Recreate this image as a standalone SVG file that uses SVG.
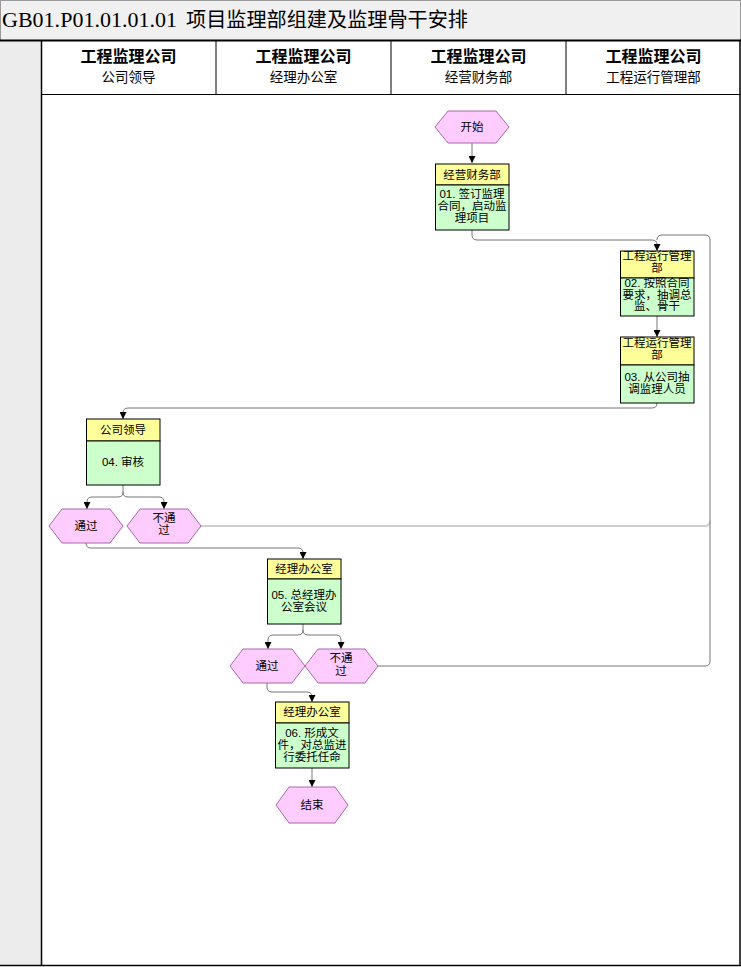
<svg xmlns="http://www.w3.org/2000/svg" width="741" height="967" viewBox="0 0 741 967">
<defs>
<marker id="arr" viewBox="0 0 10 10" refX="10" refY="5" markerWidth="7" markerHeight="7" markerUnits="userSpaceOnUse" orient="auto">
<path d="M0,0 L10,5 L0,10 z" fill="#000"/>
</marker>
<style>
.t{font-family:"Liberation Sans","Noto Sans CJK SC",sans-serif;fill:#000;text-anchor:middle}
.b{font-size:11.5px}
.h{font-size:11.5px}
.hx{fill:#ffccff;stroke:#a868a8;stroke-width:1}
.yh{fill:#ffff99;stroke:#000;stroke-width:1}
.gb{fill:#ccffcc;stroke:#000;stroke-width:1}
.c{fill:none;stroke:#777;stroke-width:1}
.ca{fill:none;stroke:#777;stroke-width:1;marker-end:url(#arr)}
.lane{font-family:"Noto Sans CJK SC","Liberation Sans",sans-serif;text-anchor:middle;fill:#000}
</style>
</defs>

<g id="frame">
<rect x="0.5" y="0.5" width="740" height="40" fill="#f0f0f0" stroke="#999"/>
<rect x="0" y="41" width="41" height="925" fill="#ececec"/>
<rect x="41" y="41" width="700" height="925" fill="#fff"/>
<line x1="0" y1="40.5" x2="741" y2="40.5" stroke="#000" stroke-width="2"/>
<line x1="41.5" y1="40" x2="41.5" y2="966" stroke="#000" stroke-width="1.5"/>
<line x1="740" y1="40" x2="740" y2="966" stroke="#000" stroke-width="1.5"/>
<line x1="0" y1="965.5" x2="741" y2="965.5" stroke="#000" stroke-width="1.5"/>
<line x1="41" y1="94.5" x2="741" y2="94.5" stroke="#000" stroke-width="1"/>
<line x1="216" y1="41" x2="216" y2="94" stroke="#000"/>
<line x1="391" y1="41" x2="391" y2="94" stroke="#000"/>
<line x1="566" y1="41" x2="566" y2="94" stroke="#000"/>
<text x="2" y="27" font-family="Liberation Serif,serif" font-size="20" textLength="175" lengthAdjust="spacingAndGlyphs">GB01.P01.01.01.01</text>
<text x="186" y="27" font-family="Noto Sans CJK SC,sans-serif" font-size="20" textLength="282" lengthAdjust="spacingAndGlyphs">项目监理部组建及监理骨干安排</text>
<text class="lane" x="128.5" y="62" font-size="16" font-weight="bold">工程监理公司</text>
<text class="lane" x="128.5" y="82" font-size="13.5">公司领导</text>
<text class="lane" x="303.5" y="62" font-size="16" font-weight="bold">工程监理公司</text>
<text class="lane" x="303.5" y="82" font-size="13.5">经理办公室</text>
<text class="lane" x="478.5" y="62" font-size="16" font-weight="bold">工程监理公司</text>
<text class="lane" x="478.5" y="82" font-size="13.5">经营财务部</text>
<text class="lane" x="653.5" y="62" font-size="16" font-weight="bold">工程监理公司</text>
<text class="lane" x="653.5" y="82" font-size="13.5">工程运行管理部</text>
</g>

<g id="connectors">
<path class="ca" d="M472,143 L472,163" stroke="#000"/>
<path class="ca" d="M472,230 L472,235 Q472,240 477,240 L652,240 Q657,240 657,245 L657,251"/>
<path d="M201,526 L705,526 Q710,526 710,521" fill="none" stroke="#d0d0d0" stroke-width="2"/>
<path class="c" d="M378,666 L705,666 Q710,666 710,661 L710,240 Q710,235 705,235 L662,235 Q657,235 657,240" stroke="#444"/>
<path class="ca" d="M657,316 L657,337" stroke="#000"/>
<path class="ca" d="M657,403 Q657,408 652,408 L128,408 Q123,408 123,413 L123,419" stroke="#999"/>
<path class="ca" d="M123,485 L123,492 Q123,497 118,497 L92,497 Q87,497 87,502 L87,509" stroke="#666"/>
<path class="ca" d="M123,492 Q123,497 128,497 L159,497 Q164,497 164,502 L164,509" stroke="#666"/>
<path class="ca" d="M86,543 Q86,548 91,548 L298,548 Q303,548 303,553 L303,559" stroke="#555"/>
<path class="ca" d="M303,624 L303,630 Q303,635 298,635 L273,635 Q268,635 268,640 L268,649" stroke="#666"/>
<path class="ca" d="M303,630 Q303,635 308,635 L336,635 Q341,635 341,640 L341,649" stroke="#666"/>
<path class="ca" d="M267,683 L267,687 Q267,692 272,692 L307,692 Q312,692 312,697 L312,702" stroke="#666"/>
<path class="ca" d="M312,768 L312,787" stroke="#000"/>
</g>

<g id="start">
<polygon class="hx" points="435,127 448,111 496,111 509,127 496,143 448,143"/>
<text class="t b" x="472" y="131">开始</text>
</g>

<g id="n01">
<rect class="yh" x="435.5" y="164" width="73.5" height="21"/>
<rect class="gb" x="435.5" y="185" width="73.5" height="45"/>
<text class="t h" x="472" y="179">经营财务部</text>
<text class="t b" x="472" y="198">01. 签订监理</text>
<text class="t b" x="472" y="210">合同，启动监</text>
<text class="t b" x="472" y="222">理项目</text>
</g>

<g id="n02">
<rect class="yh" x="620.5" y="251" width="73.5" height="27"/>
<rect class="gb" x="620.5" y="278" width="73.5" height="38"/>
<text class="t h" x="657" y="260">工程运行管理</text>
<text class="t h" x="657" y="272">部</text>
<text class="t b" x="657" y="287">02. 按照合同</text>
<text class="t b" x="657" y="299">要求，抽调总</text>
<text class="t b" x="657" y="310">监、骨干</text>
</g>

<g id="n03">
<rect class="yh" x="620.5" y="337" width="73.5" height="28"/>
<rect class="gb" x="620.5" y="365" width="73.5" height="38"/>
<text class="t h" x="657" y="347">工程运行管理</text>
<text class="t h" x="657" y="359">部</text>
<text class="t b" x="657" y="381">03. 从公司抽</text>
<text class="t b" x="657" y="393">调监理人员</text>
</g>

<g id="n04">
<rect class="yh" x="86.5" y="419" width="73.5" height="22"/>
<rect class="gb" x="86.5" y="441" width="73.5" height="44"/>
<text class="t h" x="123" y="434">公司领导</text>
<text class="t b" x="123" y="466">04. 审核</text>
</g>

<g id="d04pass">
<polygon class="hx" points="49,526 62,509 110,509 123,526 110,543 62,543"/>
<text class="t b" x="86" y="530">通过</text>
</g>

<g id="d04fail">
<polygon class="hx" points="127,526 140,509 188,509 201,526 188,543 140,543"/>
<text class="t b" x="164" y="522">不通</text>
<text class="t b" x="164" y="534">过</text>
</g>

<g id="n05">
<rect class="yh" x="267.5" y="559" width="73.5" height="20"/>
<rect class="gb" x="267.5" y="579" width="73.5" height="45"/>
<text class="t h" x="304" y="573">经理办公室</text>
<text class="t b" x="304" y="599">05. 总经理办</text>
<text class="t b" x="304" y="611">公室会议</text>
</g>

<g id="d05pass">
<polygon class="hx" points="230,666 243,649 292,649 305,666 292,683 243,683"/>
<text class="t b" x="267" y="670">通过</text>
</g>

<g id="d05fail">
<polygon class="hx" points="305,666 318,649 365,649 378,666 365,683 318,683"/>
<text class="t b" x="341" y="662">不通</text>
<text class="t b" x="341" y="675">过</text>
</g>

<g id="n06">
<rect class="yh" x="275.5" y="702" width="73.5" height="21"/>
<rect class="gb" x="275.5" y="723" width="73.5" height="45"/>
<text class="t h" x="312" y="716">经理办公室</text>
<text class="t b" x="312" y="737">06. 形成文</text>
<text class="t b" x="312" y="749">件，对总监进</text>
<text class="t b" x="312" y="761">行委托任命</text>
</g>

<g id="end">
<polygon class="hx" points="276,805 289,787 335,787 348,805 335,823 289,823"/>
<text class="t b" x="312" y="809">结束</text>
</g>
</svg>
